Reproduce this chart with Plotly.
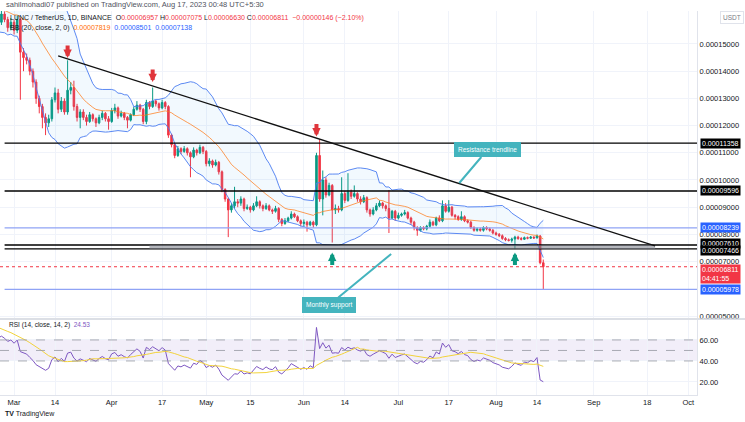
import numpy as np
import pandas as pd
import plotly.graph_objects as go

# ---------------- DATA (prices in units of 1e-8 USDT) ----------------
SCALE = 1e-8
START_DATE = "2023-02-05"
FIRST_OPEN_E8 = 16000

close_e8 = [
    # Feb 5-28
    16200, 16800, 16500, 17100, 16600, 16000, 16400, 15800, 15300, 16100, 16700, 16300,
    16900, 16500, 16100, 16400, 15900, 16300, 16000, 15800, 16100, 15900, 15600, 15800,
    # Mar
    15500, 15900, 14700, 14500, 14400, 14000, 13600, 13000, 12700, 12300, 12100, 12250,
    12950, 13200, 12600, 12900, 12500, 13300, 13400, 12700, 12300, 12500, 12300, 12150,
    12400, 12250, 12100, 12300, 12450, 12250, 12150,
    # Apr
    12550, 12650, 12350, 12450, 12300, 12200, 12400, 12600, 12750, 12600, 12150, 12850,
    12700, 12900, 12800, 12650, 12850, 12700, 11650, 11300, 10900, 11150, 11050, 11150,
    11000, 10850, 11100, 11000, 11200, 11050,
    # May
    10600, 10700, 10550, 10650, 10300, 9650, 9300, 8900, 9050, 9200, 9150, 9300,
    8950, 9000, 8900, 9050, 9200, 9050, 8950, 9050, 8900, 8850, 8950, 8550,
    8400, 8500, 8600, 8750, 8650, 8500, 8400,
    # Jun
    8450, 8350, 8450, 8350, 10900, 9300, 10000, 9450, 9800, 8900, 8950, 8900,
    9500, 9250, 9550, 9400, 9500, 9300, 9200, 9350, 8900, 8750, 8900, 9050,
    9150, 9050, 8950, 8600, 8850, 8600,
    # Jul
    8700, 8750, 8800, 8600, 8450, 8250, 8150, 8250, 8200, 8300, 8450, 8350,
    8600, 8500, 9050, 8850, 9000, 8700, 8650, 8550, 8650, 8500, 8450, 8250,
    8150, 8200, 8150, 8250, 8200, 8150, 8050,
    # Aug 1-16
    8000, 7950, 7850, 7800, 7780, 7830, 7900, 7850, 7820, 7880, 7860, 7900,
    7870, 7940, 6957, 6811,
]

high_e8 = [
    16400, 16950, 16900, 17250, 17200, 16700, 16550, 16500, 15900, 16250, 16850, 16850,
    17050, 17000, 16600, 16550, 16500, 16450, 16400, 16150, 16250, 16200, 16000, 15950,
    15900, 16050, 15950, 14850, 14650, 14500, 14100, 13700, 13100, 12800, 12450, 12400,
    13050, 13400, 13350, 13050, 13000, 14400, 13600, 13650, 12800, 12600, 12600, 12400,
    12500, 12450, 12300, 12400, 12550, 12500, 12350,
    12650, 12800, 12700, 12550, 12500, 12350, 12450, 12700, 12900, 12800, 12650, 12950,
    12900, 13400, 12950, 12850, 12950, 12900, 12750, 11700, 11350, 11250, 11200, 11250,
    11200, 11050, 11200, 11150, 11300, 11250,
    11100, 10800, 10750, 10750, 10700, 10350, 9700, 9350, 9150, 9750, 9300, 9400,
    9350, 9100, 9050, 9150, 9400, 9250, 9100, 9150, 9100, 8950, 9050, 9000,
    8600, 8600, 8650, 8850, 8800, 8700, 8550,
    8550, 8500, 8500, 8500, 11000, 11480, 10350, 10100, 9900, 9850, 9100, 9050,
    10100, 9600, 10250, 9650, 9800, 9550, 9400, 9450, 9400, 8950, 9000, 9150,
    9250, 9200, 9100, 9630, 8900, 8900,
    8800, 8800, 8900, 8850, 8650, 8500, 8300, 8300, 8300, 8350, 8550, 8500,
    8650, 8700, 9250, 9150, 9260, 9050, 8750, 8700, 8850, 8700, 8550, 8500,
    8300, 8250, 8250, 8300, 8300, 8250, 8200,
    8100, 8050, 8000, 7900, 7850, 7880, 7950, 7950, 7900, 7920, 7920, 7940,
    7930, 8000, 7980, 7075,
]

low_e8 = [
    15900, 16100, 16350, 16400, 16500, 15850, 15900, 15700, 15150, 15200, 16000, 16200,
    16200, 16400, 16000, 16000, 15800, 15800, 15900, 15650, 15700, 15800, 15450, 15500,
    15350, 15400, 12950, 14000, 14250, 13850, 13400, 12800, 12450, 11900, 11650, 11950,
    12150, 12850, 12450, 12500, 12400, 12400, 13150, 12550, 12150, 11900, 12200, 12000,
    12100, 12150, 11950, 12050, 12200, 12150, 11850,
    12100, 12450, 12250, 12300, 12200, 11900, 12150, 12350, 12550, 12500, 12050, 12050,
    12600, 12650, 12700, 12550, 12600, 12600, 11550, 11200, 10800, 10850, 10950, 11000,
    10900, 10100, 10800, 10900, 10950, 10950,
    10500, 10500, 10450, 10500, 10200, 9550, 9200, 7900, 8800, 8950, 9000, 9050,
    8850, 8900, 8800, 8850, 9000, 8950, 8850, 8900, 8850, 8750, 8800, 8450,
    8300, 8350, 8450, 8550, 8600, 8450, 8300,
    8300, 8100, 8300, 8250, 8300, 9200, 8700, 9350, 9400, 7700, 8750, 8800,
    8850, 9150, 9200, 9300, 9350, 9200, 9100, 9150, 8800, 8650, 8700, 8850,
    9000, 8950, 8850, 8050, 8550, 8500,
    8550, 8650, 8700, 8550, 8350, 8150, 7950, 8100, 8150, 8150, 8250, 8300,
    8300, 8450, 8450, 8800, 8800, 8650, 8550, 8500, 8500, 8450, 8400, 8200,
    8100, 8100, 8100, 8100, 8150, 8100, 8000,
    7950, 7900, 7800, 7750, 7740, 7700, 7460, 7800, 7780, 7800, 7820, 7830,
    7830, 7850, 6900, 5978,
]

assert len(close_e8) == len(high_e8) == len(low_e8) == 193

# levels drawn on the chart (1e-8 units)
RESIST_LEVELS = [11358, 9596, 7610, 7466]
BLUE_LEVELS = [8239, 5978]
LAST_PRICE = 6811
ZONE = (7466, 7610)

X_TICKS = ["2023-03-01", "2023-03-14", "2023-04-01", "2023-04-17", "2023-05-01", "2023-05-15",
           "2023-06-01", "2023-06-14", "2023-07-01", "2023-07-17", "2023-08-01", "2023-08-14",
           "2023-09-01", "2023-09-18", "2023-10-01"]
X_TEXT = ["Mar", "14", "Apr", "17", "May", "15", "Jun", "14", "Jul", "17", "Aug", "14", "Sep", "18", "Oct"]
PRICE_TICKS = [5000, 7000, 8000, 9000, 10000, 11000, 12000, 13000, 14000, 15000]
RSI_TICKS = [20, 40, 60]

# ---------------- computations ----------------
dates = pd.date_range(START_DATE, periods=len(close_e8), freq="D")
close = np.array(close_e8) * SCALE
high = np.array(high_e8) * SCALE
low = np.array(low_e8) * SCALE
open_ = np.array([FIRST_OPEN_E8] + close_e8[:-1]) * SCALE

s = pd.Series(close, index=dates)
basis = s.rolling(20).mean()
dev = s.rolling(20).std(ddof=0)
upper = basis + 2 * dev
lower = basis - 2 * dev

delta = s.diff()
gain = delta.clip(lower=0)
loss = (-delta).clip(lower=0)
ag = gain.ewm(alpha=1 / 14, adjust=False).mean()
al = loss.ewm(alpha=1 / 14, adjust=False).mean()
rsi = 100 - 100 / (1 + ag / al)
rsi_ma = rsi.rolling(14).mean()

UP = "#089981"
DOWN = "#f23645"
BB_BLUE = "#4a7cf0"
ORANGE = "rgba(255,120,20,0.8)"
TEAL = "#44b4be"
GRID = "#f0f3fa"
TXT = "#131722"
FONT = "Liberation Sans"

fig = go.Figure()
fig.add_trace(go.Scatter(x=dates, y=upper, mode="lines", line=dict(color=BB_BLUE, width=0.9),
                         hoverinfo="skip"))
fig.add_trace(go.Scatter(x=dates, y=lower, mode="lines", line=dict(color=BB_BLUE, width=0.9),
                         fill="tonexty", fillcolor="rgba(33,150,243,0.06)", hoverinfo="skip"))
fig.add_trace(go.Scatter(x=dates, y=basis, mode="lines", line=dict(color=ORANGE, width=0.9),
                         hoverinfo="skip"))
fig.add_trace(go.Candlestick(x=dates, open=open_, high=high, low=low, close=close,
                             increasing=dict(line=dict(color=UP, width=1), fillcolor=UP),
                             decreasing=dict(line=dict(color=DOWN, width=1), fillcolor=DOWN),
                             whiskerwidth=0))
fig.add_trace(go.Scatter(x=dates, y=rsi, mode="lines", line=dict(color="#7e57c2", width=1),
                         xaxis="x2", yaxis="y2"))
fig.add_trace(go.Scatter(x=dates, y=rsi_ma, mode="lines", line=dict(color="#f2d33b", width=1),
                         xaxis="x2", yaxis="y2"))

shapes = []
for lv in RESIST_LEVELS:
    shapes.append(dict(type="line", xref="x", yref="y", x0="2023-02-26", x1="2023-10-20",
                       y0=lv * SCALE, y1=lv * SCALE, line=dict(color="#000000", width=1.3)))
for lv in BLUE_LEVELS:
    shapes.append(dict(type="line", xref="x", yref="y", x0="2023-02-26", x1="2023-10-20",
                       y0=lv * SCALE, y1=lv * SCALE, line=dict(color="#8fa3f5", width=1.2)))
shapes.append(dict(type="rect", xref="x", yref="y", x0="2023-04-13", x1="2023-09-20 12:00",
                   y0=ZONE[0] * SCALE, y1=ZONE[1] * SCALE, fillcolor="rgba(120,123,134,0.55)",
                   line=dict(width=0), layer="above"))
shapes.append(dict(type="line", xref="x", yref="y", x0="2023-03-15", x1="2023-09-20 12:00",
                   y0=14560 * SCALE, y1=7574 * SCALE, line=dict(color="#111111", width=1.3)))
shapes.append(dict(type="line", xref="paper", yref="y", x0=0, x1=1,
                   y0=LAST_PRICE * SCALE, y1=LAST_PRICE * SCALE,
                   line=dict(color=DOWN, width=1, dash="dot")))
# RSI band
shapes.append(dict(type="rect", xref="paper", yref="y2", x0=0, x1=1, y0=40, y1=60,
                   fillcolor="rgba(126,87,194,0.10)", line=dict(width=0), layer="below"))
for lv in (60, 50, 40):
    shapes.append(dict(type="line", xref="paper", yref="y2", x0=0, x1=1, y0=lv, y1=lv,
                       line=dict(color="#9598a1", width=0.8, dash="dash")))
# pane separator
shapes.append(dict(type="line", xref="paper", yref="paper", x0=0, x1=1.07, y0=0.1979, y1=0.1979,
                   line=dict(color="#d1d4dc", width=1.5)))

ann = []
# header
ann.append(dict(xref="paper", yref="paper", x=0.006, y=1.016, xanchor="left", yanchor="middle",
                showarrow=False, font=dict(size=7.5, color="#50535e", family=FONT),
                text="sahilmohadi07 published on TradingView.com, Aug 17, 2023 00:48 UTC+5:30"))
R = "#f23645"
ann.append(dict(xref="paper", yref="paper", x=0.012, y=0.983, xanchor="left", yanchor="middle",
                showarrow=False, font=dict(size=7, color=TXT, family=FONT),
                text=("LUNC / TetherUS, 1D, BINANCE  O<span style='color:%s'>0.00006957</span> "
                      "H<span style='color:%s'>0.00007075</span> L<span style='color:%s'>0.00006630</span> "
                      "C<span style='color:%s'>0.00006811  −0.00000146 (−2.10%%)</span>") % (R, R, R, R)))
ann.append(dict(xref="paper", yref="paper", x=0.012, y=0.955, xanchor="left", yanchor="middle",
                showarrow=False, font=dict(size=7, color=TXT, family=FONT),
                text=("BB (20, close, 2, 0)  <span style='color:#ff6d00'>0.00007819</span>  "
                      "<span style='color:#2962ff'>0.00008501</span>  "
                      "<span style='color:#2962ff'>0.00007138</span>")))
ann.append(dict(xref="paper", yref="paper", x=0.01, y=0.182, xanchor="left", yanchor="middle",
                showarrow=False, font=dict(size=6.5, color=TXT, family=FONT),
                text="RSI (14, close, 14, 2)  <span style='color:#7e57c2'>24.53</span>"))
ann.append(dict(xref="paper", yref="paper", x=1.033, y=0.984, xanchor="left", yanchor="middle",
                showarrow=False, font=dict(size=6.5, color="#787b86", family=FONT), text="USDT",
                bordercolor="#e0e3eb", borderwidth=1, borderpad=2))
ann.append(dict(xref="paper", yref="paper", x=0.004, y=-0.05, xanchor="left", yanchor="middle",
                showarrow=False, font=dict(size=7, color=TXT, family=FONT),
                text="<b>TV</b> TradingView"))

# price tags
tags = [(11358, "#000000", "0.00011358", 0), (9596, "#000000", "0.00009596", 0),
        (8239, "#2962ff", "0.00008239", 0), (7610, "#000000", "0.00007610", 2),
        (7466, "#000000", "0.00007466", -2), (5978, "#2962ff", "0.00005978", 0)]
for lv, col, t, sh in tags:
    ann.append(dict(xref="paper", yref="y", x=1, y=lv * SCALE, xanchor="left", yanchor="middle",
                    xshift=3, yshift=sh, showarrow=False, text=t, bgcolor=col, borderpad=1,
                    font=dict(size=7, color="white", family=FONT)))
ann.append(dict(xref="paper", yref="y", x=1, y=LAST_PRICE * SCALE, xanchor="left", yanchor="top",
                xshift=3, yshift=3, showarrow=False, text="0.00006811<br>04:41:55", bgcolor=DOWN,
                borderpad=1, align="left", font=dict(size=7, color="white", family=FONT)))

# arrows
for d, p in [("2023-03-18", 14485), ("2023-04-14", 13600), ("2023-06-05", 11600)]:
    ann.append(dict(x=d, y=p * SCALE, xref="x", yref="y", text="", showarrow=True, ax=0, ay=-14,
                    arrowhead=2, arrowsize=0.42, arrowwidth=4, arrowcolor="#e0353b", standoff=0))
for d, p in [("2023-06-10", 7330), ("2023-08-07", 7330)]:
    ann.append(dict(x=d, y=p * SCALE, xref="x", yref="y", text="", showarrow=True, ax=0, ay=14,
                    arrowhead=2, arrowsize=0.42, arrowwidth=4, arrowcolor="#0b9981", standoff=0))

# callouts
ann.append(dict(x="2023-07-20 08:00", y=9890 * SCALE, xref="x", yref="y", text="Resistance trendline",
                showarrow=True, ax=28, ay=-33, arrowhead=0, arrowwidth=2, arrowcolor=TEAL,
                bgcolor=TEAL, bordercolor=TEAL, borderpad=3,
                font=dict(size=6.5, color="white", family=FONT)))
ann.append(dict(x="2023-06-28 17:00", y=7280 * SCALE, xref="x", yref="y", text="Monthly support",
                showarrow=True, ax=-62, ay=51, arrowhead=0, arrowwidth=2, arrowcolor=TEAL,
                bgcolor=TEAL, bordercolor=TEAL, borderpad=3,
                font=dict(size=6.5, color="white", family=FONT)))

X_RANGE = ["2023-02-24 13:00", "2023-10-03 19:00"]
fig.update_layout(
    width=745, height=422,
    margin=dict(l=0, r=48, t=11, b=27),
    paper_bgcolor="white", plot_bgcolor="white",
    showlegend=False,
    font=dict(family=FONT, size=7.5, color=TXT),
    shapes=shapes, annotations=ann,
    xaxis=dict(domain=[0, 1], anchor="y", range=X_RANGE, tickvals=X_TICKS, ticktext=X_TEXT,
               showticklabels=False, showgrid=True, gridcolor=GRID, zeroline=False,
               rangeslider=dict(visible=False), fixedrange=True),
    xaxis2=dict(domain=[0, 1], anchor="y2", range=X_RANGE, matches="x", tickvals=X_TICKS,
                ticktext=X_TEXT, showgrid=True, gridcolor=GRID, zeroline=False,
                showline=True, linecolor="#e0e3eb", tickfont=dict(size=7.5, color=TXT)),
    yaxis=dict(domain=[0.2005, 1], anchor="x", side="right", range=[4926e-8, 16213e-8],
               tickvals=[v * SCALE for v in PRICE_TICKS], tickformat=".8f",
               showgrid=True, gridcolor=GRID, zeroline=False, showline=True, linecolor="#e0e3eb",
               tickfont=dict(size=7.5, color=TXT)),
    yaxis2=dict(domain=[0, 0.1953], anchor="x2", side="right", range=[7.6, 79.0],
                tickvals=RSI_TICKS, tickformat=".2f", showgrid=True, gridcolor=GRID,
                zeroline=False, showline=True, linecolor="#e0e3eb",
                tickfont=dict(size=7.5, color=TXT)),
)

fig.write_html("out.html")
